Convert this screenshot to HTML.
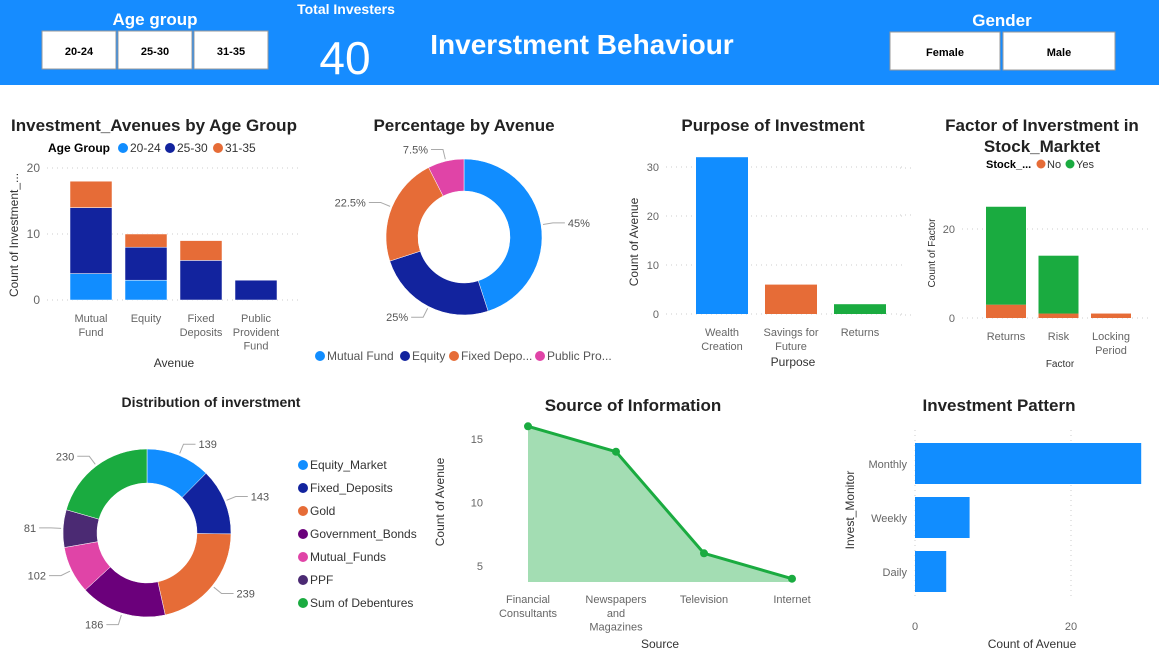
<!DOCTYPE html>
<html><head><meta charset="utf-8">
<style>
body{margin:0;width:1159px;height:654px;overflow:hidden;background:#fff;font-family:"Liberation Sans",sans-serif;}
svg text{font-family:"Liberation Sans",sans-serif;}
</style></head>
<body>
<svg id="s" width="1159" height="654">
<rect x="0" y="0" width="1159" height="85" fill="#168cff"/>
<text x="155" y="25" font-size="17" font-weight="bold" fill="#fff" text-anchor="middle">Age group</text>
<g><rect x="42" y="31" width="74" height="38" fill="#fff" stroke="#999"/><text x="79" y="55" font-size="11" font-weight="bold" text-anchor="middle">20-24</text></g>
<g><rect x="118" y="31" width="74" height="38" fill="#fff" stroke="#999"/><text x="155" y="55" font-size="11" font-weight="bold" text-anchor="middle">25-30</text></g>
<g><rect x="194" y="31" width="74" height="38" fill="#fff" stroke="#999"/><text x="231" y="55" font-size="11" font-weight="bold" text-anchor="middle">31-35</text></g>
<text x="346" y="14" font-size="14" font-weight="bold" fill="#fff" text-anchor="middle">Total Investers</text>
<text x="345" y="74" font-size="46" fill="#fff" text-anchor="middle">40</text>
<text x="582" y="54" font-size="28" font-weight="bold" fill="#fff" text-anchor="middle">Inverstment Behaviour</text>
<text x="1002" y="26" font-size="17" font-weight="bold" fill="#fff" text-anchor="middle">Gender</text>
<g><rect x="890" y="32" width="110" height="38" fill="#fff" stroke="#999"/><text x="945" y="56" font-size="11" font-weight="bold" text-anchor="middle">Female</text></g>
<g><rect x="1003" y="32" width="112" height="38" fill="#fff" stroke="#999"/><text x="1059" y="56" font-size="11" font-weight="bold" text-anchor="middle">Male</text></g>

<!-- titles -->
<text x="154" y="131" font-size="17" font-weight="bold" fill="#222" text-anchor="middle">Investment_Avenues by Age Group</text>
<text x="464" y="131" font-size="17" font-weight="bold" fill="#222" text-anchor="middle">Percentage by Avenue</text>
<text x="773" y="131" font-size="17" font-weight="bold" fill="#222" text-anchor="middle">Purpose of Investment</text>
<text x="1042" y="131" font-size="17" font-weight="bold" fill="#222" text-anchor="middle">Factor of Inverstment in</text>
<text x="1042" y="152" font-size="17" font-weight="bold" fill="#222" text-anchor="middle">Stock_Marktet</text>
<text x="211" y="407" font-size="14" font-weight="bold" fill="#222" text-anchor="middle">Distribution of inverstment</text>
<text x="633" y="411" font-size="17" font-weight="bold" fill="#222" text-anchor="middle">Source of Information</text>
<text x="999" y="411" font-size="17" font-weight="bold" fill="#222" text-anchor="middle">Investment Pattern</text>

<!-- legends -->
<g font-size="12">
<text x="48" y="152" font-weight="bold">Age Group</text>
<circle cx="123" cy="148" r="5" fill="#118dff"/><text x="130" y="152" fill="#333">20-24</text>
<circle cx="170" cy="148" r="5" fill="#12239e"/><text x="177" y="152" fill="#333">25-30</text>
<circle cx="218" cy="148" r="5" fill="#e66c37"/><text x="225" y="152" fill="#333">31-35</text>
</g>
<g font-size="12" fill="#555">
<circle cx="320" cy="356" r="5" fill="#118dff"/><text x="327" y="360">Mutual Fund</text>
<circle cx="405" cy="356" r="5" fill="#12239e"/><text x="412" y="360">Equity</text>
<circle cx="454" cy="356" r="5" fill="#e66c37"/><text x="461" y="360">Fixed Depo...</text>
<circle cx="540" cy="356" r="5" fill="#e044a7"/><text x="547" y="360">Public Pro...</text>
</g>
<g font-size="11">
<text x="986" y="168" font-weight="bold">Stock_...</text>
<circle cx="1041" cy="164" r="4.5" fill="#e66c37"/><text x="1047" y="168" fill="#333">No</text>
<circle cx="1070" cy="164" r="4.5" fill="#1aab40"/><text x="1076" y="168" fill="#333">Yes</text>
</g>
<g id="g" ></g>
</svg>
<script>
// Chart 1 data
const c1Cats=["Mutual Fund","Equity","Fixed Deposits","Public Provident Fund"];
const c1A=[4,3,0,0];
const c1B=[10,5,6,3];
const c1C=[4,2,3,0];
const c1Ticks=[0,10,20];
// Chart 2
const c2Cats=["Mutual Fund","Equity","Fixed Deposits","Public Provident Fund"];
const c2Vals=[45,25,22.5,7.5];
// Chart 3
const c3Cats=["Wealth Creation","Savings for Future","Returns"];
const c3Vals=[32,6,2];
const c3Ticks=[0,10,20,30];
// Chart 4
const c4Cats=["Returns","Risk","Locking Period"];
const c4No=[3,1,1];
const c4Yes=[22,13,0];
const c4Ticks=[0,20];
// Chart 5
const c5Cats=["Equity_Market","Fixed_Deposits","Gold","Government_Bonds","Mutual_Funds","PPF","Sum of Debentures"];
const c5Vals=[139,143,239,186,102,81,230];
// Chart 6
const c6Cats=["Financial Consultants","Newspapers and Magazines","Television","Internet"];
const c6Vals=[16,14,6,4];
const c6Ticks=[5,10,15];
// Chart 7
const c7Cats=["Monthly","Weekly","Daily"];
const c7Vals=[29,7,4];
const c7Ticks=[0,20];

const NS="http://www.w3.org/2000/svg";
const G=document.getElementById('g');
function el(t,a,txt){const e=document.createElementNS(NS,t);for(const k in a)e.setAttribute(k,a[k]);if(txt!==undefined)e.textContent=txt;G.appendChild(e);return e;}
function lines(x,y,arr,size,fill){arr.forEach((s,i)=>{const t=el('text',{x:x,y:y+i*size*1.25,'font-size':size,fill:fill,'text-anchor':'middle'},s);});}
const COLORS=["#118dff","#12239e","#e66c37","#6b007b","#e044a7","#4b2a73","#1aab40"];

// ---- Chart 1
{const y=v=>300-v*6.6; const bx=i=>70+i*55;
c1Ticks.forEach(t=>{const l=el('line',{x1:47,x2:300,y1:y(t),y2:y(t),stroke:'#ccc','stroke-dasharray':'1 4'});
const tx=el('text',{x:40,y:y(t)+4,'font-size':12,fill:'#666','text-anchor':'end'},t);});
c1Cats.forEach((c,i)=>{let base=0;[[c1A,0],[c1B,1],[c1C,2]].forEach(([arr,ci])=>{const v=arr[i];if(v>0){const r=el('rect',{x:bx(i),y:y(base+v),width:42,height:v*6.6,fill:COLORS[ci],stroke:'#fff','stroke-width':0.5});}base+=v;});});
const lbl=[["Mutual","Fund"],["Equity"],["Fixed","Deposits"],["Public","Provident","Fund"]];
lbl.forEach((a,i)=>lines(bx(i)+21,322,a,11,'#666'));
const xt=el('text',{x:174,y:367,'font-size':12,fill:'#333','text-anchor':'middle'},'Avenue');
const yt=el('text',{x:18,y:235,'font-size':12,fill:'#333','text-anchor':'middle',transform:'rotate(-90 18 235)'},'Count of Investment_...');}

// ---- donut helper
function donut(cx,cy,R,r,vals,cols,name){const tot=vals.reduce((a,b)=>a+b,0);let a0=-Math.PI/2;const mids=[];
vals.forEach((v,i)=>{const a1=a0+v/tot*2*Math.PI;const p=(a,rr)=>[cx+rr*Math.cos(a),cy+rr*Math.sin(a)];const[x1,y1]=p(a0,R),[x2,y2]=p(a1,R),[x3,y3]=p(a1,r),[x4,y4]=p(a0,r);const lg=a1-a0>Math.PI?1:0;
const pa=el('path',{d:`M${x1},${y1}A${R},${R} 0 ${lg} 1 ${x2},${y2}L${x3},${y3}A${r},${r} 0 ${lg} 0 ${x4},${y4}Z`,fill:cols[i],stroke:'#fff','stroke-width':0.5});mids.push((a0+a1)/2);a0=a1;});return mids;}
function callout(cx,cy,R,a,txt){const x1=cx+(R+2)*Math.cos(a),y1=cy+(R+2)*Math.sin(a),x2=cx+(R+12)*Math.cos(a),y2=cy+(R+12)*Math.sin(a);const right=Math.cos(a)>=0;const x3=x2+(right?12:-12);
const l=el('polyline',{points:`${x1},${y1} ${x2},${y2} ${x3},${y2}`,fill:'none',stroke:'#aaa'});
const t=el('text',{x:x3+(right?3:-3),y:y2+4,'font-size':11,fill:'#555','text-anchor':right?'start':'end'},txt);}

// ---- Chart 2
{const m=donut(464,237,78,46,c2Vals,["#118dff","#12239e","#e66c37","#e044a7"],'avenue');m.forEach((a,i)=>callout(464,237,78,a,c2Vals[i]+'%'));}

// ---- Chart 3
{const y=v=>314-v*4.9;const bx=i=>696+i*69;
c3Ticks.forEach(t=>{const l=el('line',{x1:666,x2:905,y1:y(t),y2:y(t),stroke:'#ccc','stroke-dasharray':'1 4'});
const tx=el('text',{x:659,y:y(t)+4,'font-size':11,fill:'#666','text-anchor':'end'},t);});
c3Cats.forEach((c,i)=>{const r=el('rect',{x:bx(i),y:y(c3Vals[i]),width:52,height:c3Vals[i]*4.9,fill:COLORS[[0,2,6][i]]});});
[["Wealth","Creation"],["Savings for","Future"],["Returns"]].forEach((a,i)=>lines(bx(i)+26,336,a,11,'#666'));
const xt=el('text',{x:793,y:366,'font-size':12,fill:'#333','text-anchor':'middle'},'Purpose');
const yt=el('text',{x:638,y:242,'font-size':12,fill:'#333','text-anchor':'middle',transform:'rotate(-90 638 242)'},'Count of Avenue');}

// ---- Chart 4
{const y=v=>318-v*4.45;const bx=i=>986+i*52.5;
c4Ticks.forEach(t=>{const l=el('line',{x1:962,x2:1152,y1:y(t),y2:y(t),stroke:'#ccc','stroke-dasharray':'1 4'});
const tx=el('text',{x:955,y:y(t)+4,'font-size':11,fill:'#666','text-anchor':'end'},t);});
[0,1,2].forEach(k=>{const l=el('line',{x1:900,x2:915,y1:[168,215,315][k],y2:[168,215,315][k],stroke:'#ccc','stroke-dasharray':'1 4'});});
c4Cats.forEach((c,i)=>{let base=0;[[c4No,'#e66c37'],[c4Yes,'#1aab40']].forEach(([arr,col])=>{const v=arr[i];if(v>0){const r=el('rect',{x:bx(i),y:y(base+v),width:40,height:v*4.45,fill:col});}base+=v;});});
[["Returns"],["Risk"],["Locking","Period"]].forEach((a,i)=>lines(bx(i)+20,340,a,11,'#666'));
const xt=el('text',{x:1060,y:367,'font-size':10,fill:'#333','text-anchor':'middle'},'Factor');
const yt=el('text',{x:935,y:253,'font-size':10,fill:'#333','text-anchor':'middle',transform:'rotate(-90 935 253)'},'Count of Factor');}

// ---- Chart 5
{const m=donut(147,533,84,50,c5Vals,COLORS,'distribution');m.forEach((a,i)=>callout(147,533,84,a,c5Vals[i]));
c5Cats.forEach((c,i)=>{const yy=465+i*23;const ci=el('circle',{cx:303,cy:yy,r:5,fill:COLORS[i]});
const t=el('text',{x:310,y:yy+4,'font-size':12,fill:'#333'},c);});}

// ---- Chart 6
{const y=v=>566-(v-5)*12.7;const x=i=>528+i*88;const base=582;
c6Ticks.forEach(t=>{const tx=el('text',{x:483,y:y(t)+4,'font-size':11,fill:'#666','text-anchor':'end'},t);});
let d=`M${x(0)},${base}`;c6Vals.forEach((v,i)=>d+=`L${x(i)},${y(v)}`);d+=`L${x(c6Vals.length-1)},${base}Z`;
const ar=el('path',{d:d,fill:'#1aab40','fill-opacity':0.4});
const ln=el('polyline',{points:c6Vals.map((v,i)=>x(i)+','+y(v)).join(' '),fill:'none',stroke:'#1aab40','stroke-width':3});
c6Vals.forEach((v,i)=>{const c=el('circle',{cx:x(i),cy:y(v),r:4,fill:'#1aab40'});});
[["Financial","Consultants"],["Newspapers","and","Magazines"],["Television"],["Internet"]].forEach((a,i)=>lines(x(i),603,a,11,'#666'));
const xt=el('text',{x:660,y:648,'font-size':12,fill:'#333','text-anchor':'middle'},'Source');
const yt=el('text',{x:444,y:502,'font-size':12,fill:'#333','text-anchor':'middle',transform:'rotate(-90 444 502)'},'Count of Avenue');}

// ---- Chart 7
{const x=v=>915+v*7.8;const by=i=>443+i*54;
c7Ticks.forEach(t=>{const l=el('line',{x1:x(t),x2:x(t),y1:430,y2:600,stroke:'#ccc','stroke-dasharray':'1 4'});
const tx=el('text',{x:x(t),y:630,'font-size':11,fill:'#666','text-anchor':'middle'},t);});
c7Cats.forEach((c,i)=>{const r=el('rect',{x:915,y:by(i),width:c7Vals[i]*7.8,height:41,fill:'#118dff'});
const t=el('text',{x:907,y:by(i)+25,'font-size':11,fill:'#666','text-anchor':'end'},c);});
const xt=el('text',{x:1032,y:648,'font-size':12,fill:'#333','text-anchor':'middle'},'Count of Avenue');
const yt=el('text',{x:854,y:510,'font-size':12,fill:'#333','text-anchor':'middle',transform:'rotate(-90 854 510)'},'Invest_Monitor');}
</script>
</body></html>
